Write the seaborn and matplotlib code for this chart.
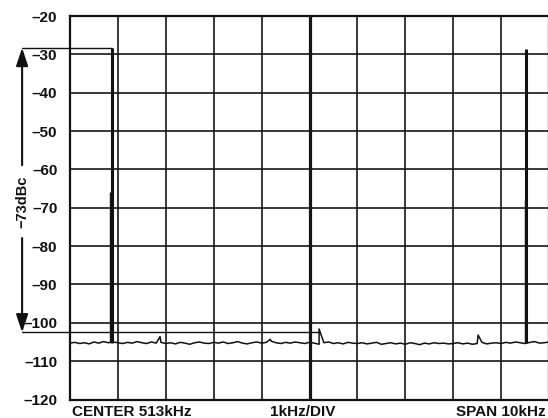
import numpy as np
import pandas as pd
import matplotlib
matplotlib.use("Agg")
import matplotlib.pyplot as plt
import seaborn as sns

# ---- data ----
freq_start = 508.0          # kHz, left edge (CENTER 513kHz, SPAN 10kHz)
freq_step = 0.1
noise_level = [
    -105.3, -105.1, -105.4, -105.2, -105.5, -105.0, -105.3, -104.9, -105.2, -105.0,
    -105.2, -105.4, -105.1, -105.3, -104.9, -105.2, -105.4, -105.0, -105.3, -105.1,
    -105.4, -105.2, -105.5, -105.1, -105.3, -105.6, -105.2, -105.0, -105.3, -105.4,
    -105.1, -105.3, -105.0, -105.4, -105.2, -104.9, -105.3, -105.5, -105.2, -105.0,
    -105.3, -105.1, -104.8, -105.2, -105.4, -105.1, -105.3, -105.0, -105.2, -105.4,
    -105.1, -105.3, -105.6, -105.2, -105.0, -105.4, -105.2, -105.5, -105.1, -105.3,
    -105.4, -105.2, -105.5, -105.3, -105.1, -105.6, -105.4, -105.2, -105.5, -105.3,
    -105.6, -105.2, -105.4, -105.7, -105.3, -105.5, -105.2, -105.4, -105.3, -105.5,
    -105.4, -105.2, -105.5, -105.3, -105.6, -105.4, -105.1, -105.5, -105.3, -105.2,
    -105.4, -105.1, -105.3, -105.0, -105.2, -105.4, -105.1, -104.9, -105.3, -105.2,
    -105.0,
]
spur_freq = [509.88, 512.18, 513.20, 516.52]
spur_level = [-103.6, -104.3, -101.6, -103.2]
carrier_freq = [508.87, 517.52]
carrier_level = [-28.3, -28.6]
carrier_inner_level = [-66.0, -68.0]
ref_top = -28.3
ref_bottom = -102.5
ref_bottom_end = 513.20
marker_freq = 507.0
dbc_label = "\u221273dBc"
y_ticks = [-20, -30, -40, -50, -60, -70, -80, -90, -100, -110, -120]

# ---- build trace table ----
f = [round(freq_start + i * freq_step, 2) for i in range(len(noise_level))]
rows = list(zip(f, noise_level))
for sf, sl in zip(spur_freq, spur_level):
    rows.append((sf, sl))
df = pd.DataFrame(rows, columns=["freq", "level"]).sort_values("freq")

# ---- figure ----
sns.set_theme(style="white")
plt.rcParams["font.family"] = ["Liberation Sans", "DejaVu Sans"]
plt.rcParams["font.weight"] = "bold"

fig = plt.figure(figsize=(5.48, 4.18), dpi=100)
ax = fig.add_axes([70 / 548, (418 - 399.5) / 418, (549 - 70) / 548, (399.5 - 16) / 418])

ax.set_xlim(508, 518)
ax.set_ylim(-120, -20)

# grid
for xv in range(509, 518):
    ax.axvline(xv, color="#161616", lw=2.3 if xv == 513 else 1.2, zorder=1)
for yv in y_ticks[1:-1]:
    ax.axhline(yv, color="#161616", lw=1.2, zorder=1)

# trace
sns.lineplot(data=df, x="freq", y="level", ax=ax, color="#111111", lw=1.1,
             estimator=None, sort=False, zorder=3)
ax.vlines(carrier_freq, -105.2, carrier_level, color="#111111", lw=2.2, zorder=3)
ax.vlines([c - 0.03 for c in carrier_freq], carrier_inner_level, -105.0,
          color="#111111", lw=1.0, zorder=3)

# markers
ax.plot([marker_freq, carrier_freq[0]], [ref_top, ref_top], color="#111111",
        lw=1.0, clip_on=False, zorder=4)
ax.plot([marker_freq, ref_bottom_end], [ref_bottom, ref_bottom], color="#111111",
        lw=1.0, clip_on=False, zorder=4)
ax.annotate("", xy=(marker_freq, ref_top), xytext=(marker_freq, -58.9),
            arrowprops=dict(arrowstyle="-|>,head_length=0.9,head_width=0.3",
                            color="#111111", lw=1.5, shrinkA=0, shrinkB=0),
            annotation_clip=False)
ax.annotate("", xy=(marker_freq, ref_bottom), xytext=(marker_freq, -77.9),
            arrowprops=dict(arrowstyle="-|>,head_length=0.9,head_width=0.3",
                            color="#111111", lw=1.5, shrinkA=0, shrinkB=0),
            annotation_clip=False)
ax.text(marker_freq, -68.4, dbc_label, rotation=90, ha="center", va="center",
        fontsize=10.5, fontweight="bold", color="#111111", clip_on=False)

# axes styling
ax.set_yticks(y_ticks)
ax.set_yticklabels([("\u2013" + str(abs(v))) for v in y_ticks],
                   fontsize=11, fontweight="bold", color="#111111")
ax.set_xticks([])
ax.tick_params(axis="y", length=0, pad=9)
ax.set_xlabel("")
ax.set_ylabel("")
for s in ax.spines.values():
    s.set_color("#111111")
    s.set_linewidth(1.6)

# bottom captions
fig.text(72 / 548, 1.5 / 418, "CENTER 513kHz", ha="left", va="baseline",
         fontsize=11, fontweight="bold", color="#111111")
fig.text(303 / 548, 1.5 / 418, "1kHz/DIV", ha="center", va="baseline",
         fontsize=11, fontweight="bold", color="#111111")
fig.text(546 / 548, 1.5 / 418, "SPAN 10kHz", ha="right", va="baseline",
         fontsize=11, fontweight="bold", color="#111111")

fig.savefig("out.png", dpi=100)
